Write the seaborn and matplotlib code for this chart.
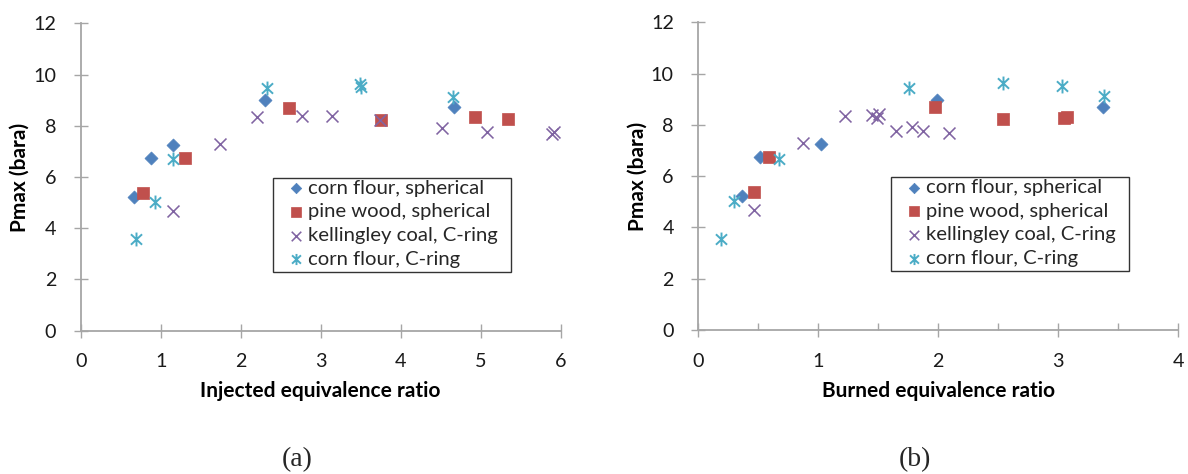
import numpy as np
import pandas as pd
import matplotlib
matplotlib.use("Agg")
import matplotlib.pyplot as plt
from matplotlib.path import Path
from matplotlib.patches import Rectangle
from matplotlib.ticker import MultipleLocator
import seaborn as sns

# ---------------- data ----------------
series_names = ["corn flour, spherical", "pine wood, spherical",
                "kellingley coal, C-ring", "corn flour, C-ring"]

# (a) injected equivalence ratio
corn_sph_inj_x = [0.67, 0.88, 1.15, 2.31, 4.67]
corn_sph_inj_y = [5.23, 6.74, 7.24, 9.00, 8.72]
pine_inj_x = [0.78, 1.30, 2.60, 3.75, 4.93, 5.34]
pine_inj_y = [5.38, 6.76, 8.68, 8.23, 8.33, 8.27]
coal_inj_x = [1.16, 1.74, 2.21, 2.77, 3.14, 3.74, 4.52, 5.08, 5.89, 5.92]
coal_inj_y = [4.69, 7.29, 8.36, 8.40, 8.40, 8.23, 7.93, 7.77, 7.69, 7.75]
cring_inj_x = [0.69, 0.93, 1.16, 2.33, 3.49, 3.50, 4.66]
cring_inj_y = [3.57, 5.04, 6.69, 9.48, 9.64, 9.53, 9.14]

# (b) burned equivalence ratio
corn_sph_bur_x = [0.36, 0.51, 1.02, 1.99, 3.37]
corn_sph_bur_y = [5.23, 6.74, 7.24, 8.97, 8.71]
pine_bur_x = [0.46, 0.59, 1.97, 2.54, 3.05, 3.07]
pine_bur_y = [5.37, 6.76, 8.69, 8.24, 8.27, 8.32]
coal_bur_x = [0.46, 0.87, 1.22, 1.45, 1.49, 1.51, 1.65, 1.78, 1.87, 2.09]
coal_bur_y = [4.68, 7.31, 8.36, 8.39, 8.26, 8.42, 7.78, 7.93, 7.78, 7.69]
cring_bur_x = [0.19, 0.30, 0.67, 1.76, 2.54, 3.03, 3.38]
cring_bur_y = [3.56, 5.03, 6.68, 9.45, 9.62, 9.52, 9.13]

y_ticks = [0, 2, 4, 6, 8, 10, 12]
xlabels = ["Injected equivalence ratio", "Burned equivalence ratio"]
ylabel = "Pmax (bara)"
panel_tags = ["(a)", "(b)"]

# ---------------- style ----------------
sns.set_theme(style="white")
plt.rcParams["font.family"] = ["Lato", "DejaVu Sans"]
plt.rcParams["xtick.bottom"] = True
plt.rcParams["ytick.left"] = True

colors = ["#4F81BD", "#C0504D", "#8064A2", "#4BACC6"]
ast = Path([(0, -1), (0, 1), (-0.8, -0.75), (0.8, 0.75), (-0.8, 0.75), (0.8, -0.75)],
           [Path.MOVETO, Path.LINETO, Path.MOVETO, Path.LINETO, Path.MOVETO, Path.LINETO])
marker_kws = [
    dict(marker="D", s=44, edgecolor=colors[0], linewidth=0.5),
    dict(marker="s", s=86, edgecolor=colors[1], linewidth=0.5),
    dict(marker="x", s=74, linewidth=1.15),
    dict(marker=ast, s=100, edgecolor=colors[3], linewidth=1.4),
]

fig = plt.figure(figsize=(11.88, 4.74), dpi=100)
ax_a = fig.add_axes([0.0679, 0.3023, 0.4040, 0.6485])
ax_b = fig.add_axes([0.5878, 0.3038, 0.4040, 0.6490])

data_a = [(corn_sph_inj_x, corn_sph_inj_y), (pine_inj_x, pine_inj_y),
          (coal_inj_x, coal_inj_y), (cring_inj_x, cring_inj_y)]
data_b = [(corn_sph_bur_x, corn_sph_bur_y), (pine_bur_x, pine_bur_y),
          (coal_bur_x, coal_bur_y), (cring_bur_x, cring_bur_y)]

# legend frame boxes in axes fractions (left, bottom, width, height)
leg_boxes = [(0.400, 0.192, 0.4965, 0.3057), (0.4015, 0.1927, 0.496, 0.3053)]

spine_col = "#A6A6A6"
for ax, data, xmax, xl, tag, lb in [(ax_a, data_a, 6, xlabels[0], panel_tags[0], leg_boxes[0]),
                                    (ax_b, data_b, 4, xlabels[1], panel_tags[1], leg_boxes[1])]:
    for name, (xs, ys), col, mk in zip(series_names, data, colors, marker_kws):
        df = pd.DataFrame({"x": xs, "y": ys})
        sns.scatterplot(data=df, x="x", y="y", color=col, ax=ax, label=name,
                        zorder=3, clip_on=False, **mk)
    ax.set_xlim(0, xmax)
    ax.set_ylim(0, 12)
    ax.set_yticks(y_ticks)
    ax.xaxis.set_major_locator(MultipleLocator(1))
    for s in ["top", "right"]:
        ax.spines[s].set_visible(False)
    for s in ["left", "bottom"]:
        ax.spines[s].set_visible(True)
        ax.spines[s].set_color(spine_col)
        ax.spines[s].set_linewidth(1.3)
    ax.tick_params(axis="both", which="major", direction="inout", length=10.5,
                   width=1.0, color=spine_col, labelsize=14.2, labelcolor="#1a1a1a",
                   bottom=True, left=True)
    ax.tick_params(axis="y", pad=12.4)
    ax.tick_params(axis="x", pad=11)
    ax.set_xlabel(xl, fontsize=15.0, fontweight="bold", labelpad=8, color="black")
    ax.set_ylabel(ylabel, fontsize=15.0, fontweight="bold", labelpad=2.5, color="black")
    ax.grid(False)
    # legend frame drawn as a rectangle, legend itself frameless
    ax.add_patch(Rectangle((lb[0], lb[1]), lb[2], lb[3], transform=ax.transAxes,
                           facecolor="white", edgecolor="#333333", linewidth=1.0,
                           zorder=4, clip_on=False))
    leg = ax.legend(loc="upper left", bbox_to_anchor=(lb[0] + 0.027, lb[1] + lb[3] - 0.006),
                    borderaxespad=0, borderpad=0, frameon=False, fontsize=14.6,
                    markerscale=0.8, handlelength=1.0, handletextpad=0.1,
                    labelspacing=0.32)
    leg.set_zorder(5)
    # panel tag
    x0, y0, w, h = ax.get_position().bounds
    fig.text(x0 + w / 2 - 0.0198, 0.031, tag, ha="center", va="center",
             fontsize=20, family=["Liberation Serif", "DejaVu Serif"])

ax_b.xaxis.set_minor_locator(MultipleLocator(0.5))
ax_b.tick_params(axis="x", which="minor", direction="in", length=5, width=1.0,
                 color=spine_col, bottom=True)

fig.savefig("out.png", dpi=100)
